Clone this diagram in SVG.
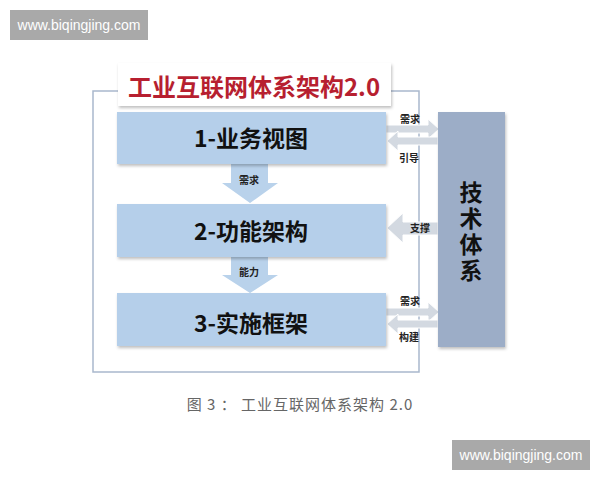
<svg xmlns="http://www.w3.org/2000/svg" width="600" height="480" viewBox="0 0 600 480">
<defs>
<filter id="sh" x="-10%" y="-10%" width="130%" height="140%">
<feDropShadow dx="1" dy="2" stdDeviation="1.5" flood-color="#000" flood-opacity="0.25"/>
</filter>
<style>
.wm{fill:#a9a9a9}
.wmt{fill:#fff;font-family:"Liberation Sans",sans-serif;font-size:14px;text-anchor:middle}
.box{fill:#b5cfea;filter:url(#sh)}
.bt{font-family:"Noto Sans CJK SC",sans-serif;font-weight:bold;font-size:23px;fill:#111;text-anchor:middle}
.da{fill:#b9d2eb}
.sa{fill:#d3d9e1;stroke:#fff;stroke-width:1}
.lbl{font-family:"Noto Sans CJK SC",sans-serif;font-weight:bold;font-size:10px;fill:#222;text-anchor:middle}
.tech{fill:#9cadc7;filter:url(#sh)}
.tt{font-family:"Noto Sans CJK SC",sans-serif;font-weight:bold;font-size:23px;fill:#111;text-anchor:middle;writing-mode:vertical-rl;letter-spacing:3px}
</style>
</defs>
<rect width="600" height="480" fill="#fff"/>

<g id="watermark-top">
<rect class="wm" x="10" y="10" width="138" height="30"/>
<text class="wmt" x="79" y="30">www.biqingjing.com</text>
</g>

<g id="frame">
<path d="M118,91 H93 V372 H419 V91 H391" fill="none" stroke="#a9b8cd" stroke-width="1.5"/>
</g>

<g id="title">
<rect x="118" y="63" width="273" height="43" fill="#fff" filter="url(#sh)"/>
<text x="254" y="96" font-family="Noto Sans CJK SC,sans-serif" font-weight="bold" font-size="24" fill="#b71f30" text-anchor="middle">工业互联网体系架构2.0</text>
</g>

<g id="connectors">
<path class="da" d="M231,164 H268 V183 H278 L250,203 L222,183 H231 Z"/>
<text class="lbl" x="249" y="184">需求</text>
<path class="da" d="M231,257 H268 V275 H278 L250,293 L222,275 H231 Z"/>
<text class="lbl" x="249" y="276">能力</text>

<path class="sa" d="M386,125 H428 V119 L439,129 L428,139 V133 H386 Z"/>
<path class="sa" d="M438,137 H398 V131 L387,141 L398,151 V145 H438 Z"/>
<text class="lbl" x="410" y="123">需求</text>
<text class="lbl" x="409" y="162">引导</text>

<path class="sa" d="M438,222 H403 V213 L387,228 L403,243 V235 H438 Z"/>
<text class="lbl" x="420" y="232">支撑</text>

<path class="sa" d="M386,308 H428 V302 L439,312 L428,322 V316 H386 Z"/>
<path class="sa" d="M438,320 H398 V314 L387,324 L398,334 V328 H438 Z"/>
<text class="lbl" x="410" y="305">需求</text>
<text class="lbl" x="409" y="341">构建</text>
</g>

<g id="node-1">
<rect class="box" x="117" y="112" width="269" height="52"/>
<text class="bt" x="251" y="147">1-业务视图</text>
</g>
<g id="node-2">
<rect class="box" x="117" y="204" width="269" height="53"/>
<text class="bt" x="251" y="240">2-功能架构</text>
</g>
<g id="node-3">
<rect class="box" x="117" y="293" width="269" height="53"/>
<text class="bt" x="251" y="332">3-实施框架</text>
</g>

<g id="node-tech">
<rect class="tech" x="438" y="112" width="67" height="235"/>
<text class="tt" x="471" y="233">技术体系</text>
</g>

<g id="caption">
<text x="300" y="410" font-family="Noto Sans CJK SC,sans-serif" font-size="15" fill="#666" text-anchor="middle" letter-spacing="1">图 3 ： 工业互联网体系架构 2.0</text>
</g>

<g id="watermark-bottom">
<rect class="wm" x="452" y="440" width="138" height="30"/>
<text class="wmt" x="521" y="460">www.biqingjing.com</text>
</g>
</svg>
